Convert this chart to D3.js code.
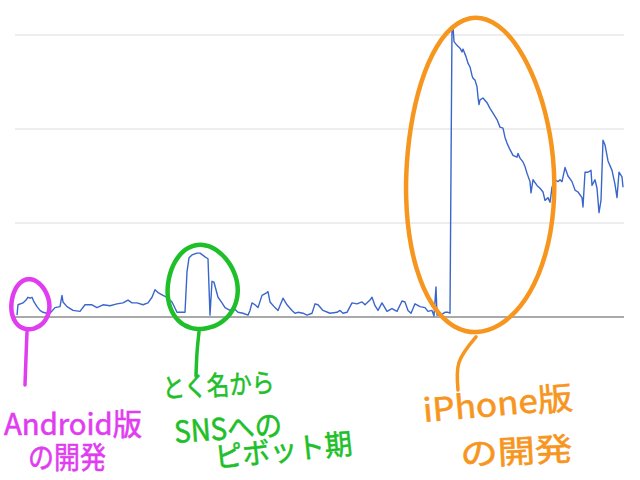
<!DOCTYPE html>
<html>
<head>
<meta charset="utf-8">
<script src="https://cdn.jsdelivr.net/npm/d3@7"></script>
<style>
  html, body { margin: 0; padding: 0; background: #fff; }
  svg { display: block; }
</style>
</head>
<body>
<svg id="chart" width="640" height="480"></svg>
<script>
// ---- data (day index, user count) ----
const days = [0,1,6,9,11,13,15,17,20,23,26,30,33,38,43,45,46,50,56,63,68,75,80,86,93,100,106,111,115,120,126,131,135,138,141,146,150,155,160,168,170,172,175,180,183,188,191,193,195,197,199,201,205,208,213,216,221,226,231,233,235,238,241,245,250,251,253,258,261,266,270,275,278,281,286,290,295,298,301,306,313,320,323,326,330,335,340,345,348,353,355,358,361,365,370,375,380,385,388,391,394,398,403,408,411,415,417,419,420,425,428,431,433,435,436,437,440,443,445,446,449,451,453,455,456,458,460,461,462,463,466,470,473,476,480,483,486,488,490,493,496,500,501,503,506,508,510,513,514,516,520,523,526,528,531,533,535,538,541,543,545,548,551,555,558,561,565,566,568,571,574,575,578,580,582,584,586,588,591,595,598,600,602,605,606];
const values = [2,13,15,18,21,20,21,16,11,7,5,4,4,10,11,23,16,11,7,6,13,13,10,13,12,14,15,18,15,15,13,15,21,29,26,23,21,16,5,5,48,63,66,68,68,64,62,2,38,37,29,21,15,10,7,10,5,4,2,7,15,13,10,23,26,27,16,10,7,20,13,7,4,5,4,2,4,14,13,7,4,5,7,4,5,15,14,16,13,18,21,12,7,15,6,9,6,17,16,7,4,14,11,10,6,7,1,32,2,3,5,5,4,309,309,293,289,286,282,285,277,270,266,257,254,252,245,234,226,231,233,228,222,217,210,202,201,191,185,178,172,170,174,169,165,160,153,144,132,146,140,137,133,124,127,122,138,146,144,146,144,159,150,144,135,133,127,117,154,154,156,140,146,137,111,124,188,183,166,156,141,127,154,149,138];
const yTicks = [0, 100, 200, 300];

// annotations (hand-drawn style)
const noteLabels = [
  ["Android版", "の開発"],
  ["とく名から", "SNSへの", "ピボット期"],
  ["iPhone版", "の開発"]
];
const noteColors = ["#e03cf0", "#1fbf2a", "#f7961f"];
const noteCenters = [[13, 13], [185, 31], [462, 148]]; // in data space (day, value)

const data = days.map((d, i) => ({ day: d, value: values[i] }));

const svg = d3.select("#chart");
const x = d3.scaleLinear().domain([0, 606]).range([17, 623]);
const y = d3.scaleLinear().domain([0, 300]).range([317, 35]);
const left = 15, right = 624;

// gridlines
svg.append("g").selectAll("line")
  .data(yTicks.filter(t => t > 0))
  .join("line")
  .attr("x1", left).attr("x2", right)
  .attr("y1", d => y(d)).attr("y2", d => y(d))
  .attr("stroke", "#dcdcdc").attr("stroke-width", 1);

// baseline
svg.append("line")
  .attr("x1", left).attr("x2", right)
  .attr("y1", y(0)).attr("y2", y(0))
  .attr("stroke", "#555").attr("stroke-width", 1);

// series line
svg.append("path")
  .datum(data)
  .attr("fill", "none")
  .attr("stroke", "#3a66cc")
  .attr("stroke-width", 1.4)
  .attr("stroke-linejoin", "round")
  .attr("d", d3.line().x(d => x(d.day)).y(d => y(d.value)));

// hand-drawn loops
function loop(cx, cy, rx, ry, start, wobble) {
  const pts = [];
  const n = 40;
  for (let i = 0; i <= n + 3; i++) {
    const t = start + (i / n) * Math.PI * 2;
    const w = 1 + wobble * Math.sin(3 * t + 0.7);
    pts.push([cx + rx * w * Math.cos(t), cy + ry * w * Math.sin(t)]);
  }
  return d3.line().curve(d3.curveCatmullRom)(pts);
}
const loopSizes = [[19, 25, 0.03], [35, 42, 0.03], [74, 157, 0.025]];
const leaderEnds = [[25, 385], [196, 376], [458, 390]];

noteCenters.forEach((c, i) => {
  const cx = x(c[0]), cy = y(c[1]);
  const [rx, ry, wb] = loopSizes[i];
  svg.append("path")
    .attr("d", loop(cx, cy, rx, ry, 1.6, wb))
    .attr("fill", "none")
    .attr("stroke", noteColors[i])
    .attr("stroke-width", 4.5)
    .attr("stroke-linecap", "round");
  // leader line
  svg.append("path")
    .attr("d", d3.line().curve(d3.curveCatmullRom)([
      [cx - 3, cy + ry + 2],
      [leaderEnds[i][0] + 1, (cy + ry + leaderEnds[i][1]) / 2],
      leaderEnds[i]
    ]))
    .attr("fill", "none")
    .attr("stroke", noteColors[i])
    .attr("stroke-width", 3.5)
    .attr("stroke-linecap", "round");
});

// annotation text
const textLayout = [
  [ {x: 4, y: 435, w: 138, s: 30, r: 0}, {x: 28, y: 468, w: 78, s: 30, r: 0} ],
  [ {x: 163, y: 398, w: 112, s: 27, r: -3}, {x: 175, y: 443, w: 108, s: 30, r: -4}, {x: 216, y: 468, w: 138, s: 29, r: -6} ],
  [ {x: 424, y: 422, w: 150, s: 32, r: -5}, {x: 461, y: 466, w: 112, s: 32, r: -3} ]
];
noteLabels.forEach((lines, i) => {
  lines.forEach((txt, j) => {
    const L = textLayout[i][j];
    svg.append("text")
      .attr("x", L.x).attr("y", L.y)
      .attr("transform", `rotate(${L.r},${L.x},${L.y})`)
      .attr("font-family", "'Noto Sans CJK JP', 'Noto Sans', sans-serif")
      .attr("font-size", L.s)
      .attr("textLength", L.w)
      .attr("lengthAdjust", "spacingAndGlyphs")
      .attr("fill", noteColors[i])
      .attr("stroke", noteColors[i])
      .attr("stroke-width", 0.6)
      .text(txt);
  });
});
</script>
</body>
</html>
